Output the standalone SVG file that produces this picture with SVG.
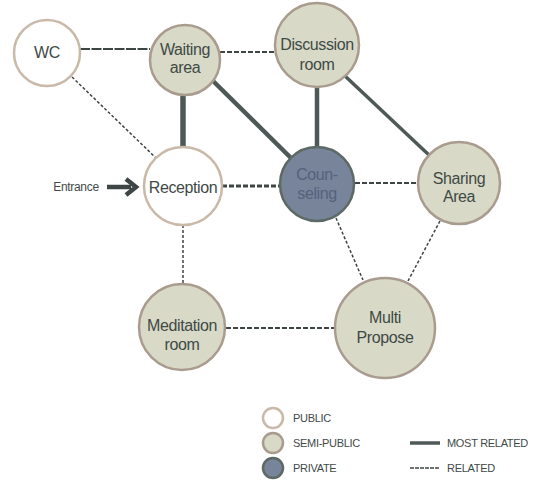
<svg xmlns="http://www.w3.org/2000/svg" width="534" height="484" viewBox="0 0 534 484">
<style>
.pub{fill:#ffffff;stroke:#c9b9a9;stroke-width:2.5}
.semi{fill:#d8d9c6;stroke:#a99c8e;stroke-width:2.5}
.priv{fill:#77849a;stroke:#5c6965;stroke-width:2.5}
.t{font-family:"Liberation Sans",Arial,sans-serif;font-size:16px;fill:#3f4946;text-anchor:middle;letter-spacing:-0.4px}
.tp{fill:#54627a}
.most{stroke:#4e5957;stroke-width:4.5;fill:none}
.rel{stroke:#3e4645;stroke-width:2;stroke-dasharray:5 2;fill:none}
.thin{stroke:#3e4645;stroke-width:1.5;stroke-dasharray:3 2;fill:none}
.lg{font-family:"Liberation Sans",Arial,sans-serif;font-size:11px;fill:#3f4946;letter-spacing:-0.3px}
</style>
<rect width="534" height="484" fill="#ffffff"/>
<g id="connectors">
<line class="rel" x1="80" y1="49" x2="150" y2="49" style="stroke-dasharray:10 1.5"/>
<line class="rel" x1="220" y1="52" x2="276" y2="52"/>
<line class="thin" x1="72" y1="77" x2="156" y2="158"/>
<line class="most" x1="183" y1="96" x2="183" y2="148" style="stroke-width:5.5"/>
<line class="most" x1="208" y1="76" x2="291" y2="158"/>
<line class="most" x1="317" y1="87" x2="317" y2="147"/>
<line class="most" x1="345" y1="76" x2="429" y2="155" style="stroke-width:3.5"/>
<line class="rel" x1="222" y1="186" x2="279" y2="186" style="stroke-width:3"/>
<line class="rel" x1="355" y1="183" x2="418" y2="183"/>
<line class="thin" x1="183" y1="225" x2="183" y2="284"/>
<line class="thin" x1="336" y1="218" x2="363" y2="280"/>
<line class="thin" x1="440" y1="221" x2="408" y2="281"/>
<line class="rel" x1="226" y1="328" x2="335" y2="328"/>
<path d="M107 187 H131" stroke="#3e4645" stroke-width="4.5" fill="none"/>
<path d="M126 179 L136 187 L126 195" stroke="#3e4645" stroke-width="4.5" fill="none" stroke-linejoin="miter"/>
</g>
<g id="entrance"><text x="76" y="191" class="lg" style="font-size:12px" text-anchor="middle">Entrance</text></g>
<g id="wc"><circle class="pub" cx="47" cy="53" r="33"/><text class="t" x="47" y="58">WC</text></g>
<g id="waiting"><circle class="semi" cx="185" cy="60" r="35"/><text class="t" x="185" y="55">Waiting</text><text class="t" x="185" y="73">area</text></g>
<g id="discussion"><circle class="semi" cx="317" cy="45" r="42"/><text class="t" x="317" y="50">Discussion</text><text class="t" x="317" y="70">room</text></g>
<g id="reception"><circle class="pub" cx="183" cy="186" r="39"/><text class="t" x="183" y="193">Reception</text></g>
<g id="counseling"><circle class="priv" cx="317" cy="184" r="37"/><text class="t tp" x="317" y="180">Coun-</text><text class="t tp" x="317" y="199">seling</text></g>
<g id="sharing"><circle class="semi" cx="459" cy="183" r="41"/><text class="t" x="459" y="184">Sharing</text><text class="t" x="459" y="202">Area</text></g>
<g id="meditation"><circle class="semi" cx="182" cy="327" r="43"/><text class="t" x="182" y="331">Meditation</text><text class="t" x="182" y="350">room</text></g>
<g id="multi"><circle class="semi" cx="385" cy="328" r="50"/><text class="t" x="385" y="323">Multi</text><text class="t" x="385" y="343">Propose</text></g>
<g id="legend">
<circle class="pub" cx="273" cy="418" r="10"/>
<circle class="semi" cx="273" cy="443" r="10"/>
<circle class="priv" cx="273" cy="468" r="10"/>
<text class="lg" x="293" y="422">PUBLIC</text>
<text class="lg" x="293" y="447">SEMI-PUBLIC</text>
<text class="lg" x="293" y="472">PRIVATE</text>
<line class="most" x1="410" y1="443" x2="440" y2="443" style="stroke-width:3.5"/>
<line class="thin" x1="410" y1="468" x2="440" y2="468" style="stroke-dasharray:4 1"/>
<text class="lg" x="447" y="447">MOST RELATED</text>
<text class="lg" x="447" y="472">RELATED</text>
</g>
</svg>
